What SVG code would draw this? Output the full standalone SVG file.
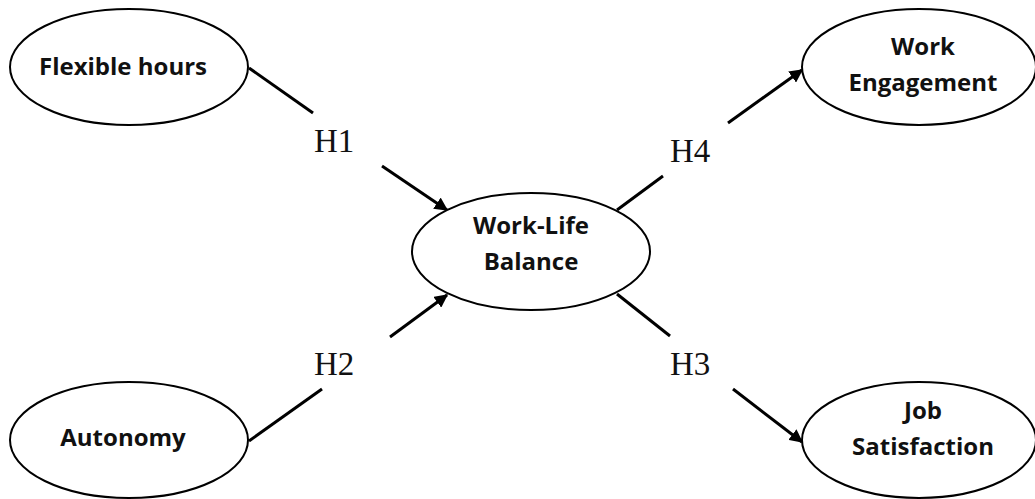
<svg xmlns="http://www.w3.org/2000/svg" width="1035" height="499" viewBox="0 0 1035 499">
  <style>
    .node ellipse { fill: #ffffff; stroke: #000000; stroke-width: 2; }
    .node text { font-family: "Open Sans", "Liberation Sans", sans-serif; font-weight: 700; font-size: 24px; fill: #111111; text-anchor: middle; }
    .links line { stroke: #000000; stroke-width: 3; fill: none; }
    .hyp { font-family: "Liberation Serif", "Times New Roman", serif; font-size: 33px; fill: #111111; }
  </style>
  <defs>
    <marker id="arrow" viewBox="0 0 10 10" refX="9" refY="5" markerWidth="4.5" markerHeight="4.5" orient="auto" markerUnits="strokeWidth">
      <path d="M0,0 L10,5 L0,10 z" fill="#000000"/>
    </marker>
  </defs>
  <rect width="1035" height="499" fill="#ffffff"/>

  <g class="links">
    <!-- H1: Flexible hours -> Work-Life Balance -->
    <line x1="249" y1="68" x2="313" y2="113"/>
    <line x1="382" y1="166" x2="447" y2="210" marker-end="url(#arrow)"/>
    <!-- H2: Autonomy -> Work-Life Balance -->
    <line x1="249" y1="441" x2="322" y2="389"/>
    <line x1="390" y1="337" x2="447" y2="295" marker-end="url(#arrow)"/>
    <!-- H4: Work-Life Balance -> Work Engagement -->
    <line x1="617" y1="210" x2="663" y2="176"/>
    <line x1="728" y1="123" x2="802" y2="70" marker-end="url(#arrow)"/>
    <!-- H3: Work-Life Balance -> Job Satisfaction -->
    <line x1="617" y1="294" x2="670" y2="336"/>
    <line x1="733" y1="389" x2="802" y2="442" marker-end="url(#arrow)"/>
  </g>

  <g class="labels">
    <text class="hyp" x="314" y="152">H1</text>
    <text class="hyp" x="314" y="375">H2</text>
    <text class="hyp" x="670" y="162">H4</text>
    <text class="hyp" x="670" y="375">H3</text>
  </g>

  <g id="flexible-hours" class="node">
    <ellipse cx="129" cy="67" rx="119" ry="58"/>
    <text x="123" y="75">Flexible hours</text>
  </g>

  <g id="autonomy" class="node">
    <ellipse cx="129" cy="440" rx="119" ry="58"/>
    <text x="123" y="446">Autonomy</text>
  </g>

  <g id="work-life-balance" class="node">
    <ellipse cx="531" cy="251.5" rx="119" ry="58.5"/>
    <text x="531" y="234">Work-Life</text>
    <text x="531" y="270">Balance</text>
  </g>

  <g id="work-engagement" class="node">
    <ellipse cx="919" cy="67" rx="117" ry="58"/>
    <text x="923" y="55">Work</text>
    <text x="923" y="91">Engagement</text>
  </g>

  <g id="job-satisfaction" class="node">
    <ellipse cx="919" cy="440" rx="117" ry="58"/>
    <text x="923" y="419">Job</text>
    <text x="923" y="455">Satisfaction</text>
  </g>
</svg>
